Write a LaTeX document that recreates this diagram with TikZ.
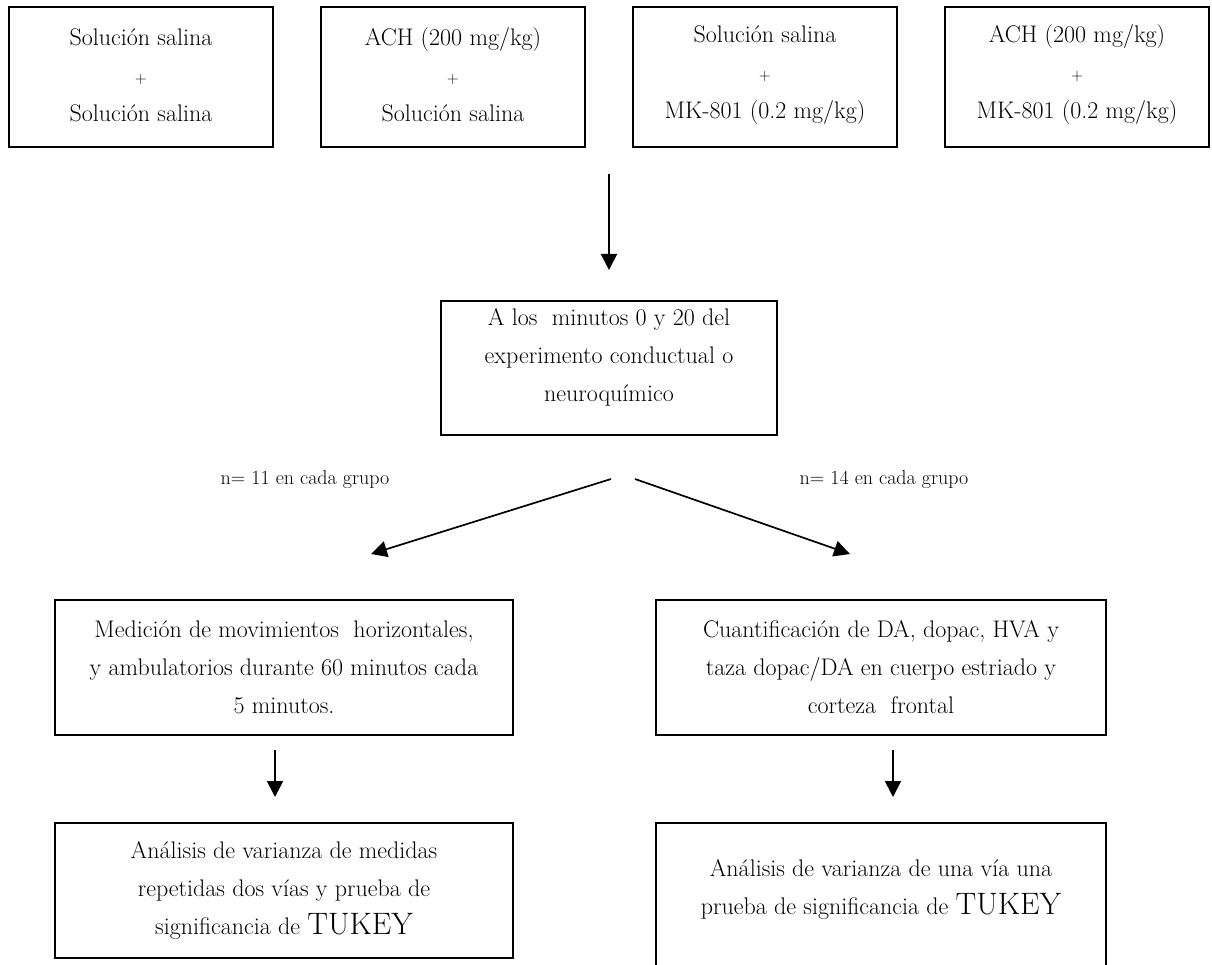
\documentclass[tikz,border=0pt]{standalone}
\usetikzlibrary{arrows.meta}
\begin{document}
\begin{tikzpicture}[x=1pt,y=-1pt,
  box/.style={draw=black, line width=1.8pt, inner sep=0pt},
  txt/.style={align=center, inner sep=0pt, font=\fontsize{24}{38}\selectfont},
  lab/.style={inner sep=0pt, font=\fontsize{20}{24}\selectfont},
  arr/.style={line width=1.7pt, -{Triangle[length=16pt,width=16pt]}}]
\clip (0,0) rectangle (1212,965);
\fill[white] (0,0) rectangle (1212,965);
\newcommand{\plusmark}{{\fontsize{16}{38}\selectfont +}}
\newcommand{\tukey}{{\fontsize{31}{38}\selectfont TUKEY}}
% top row
\node[box, minimum width=264pt, minimum height=140pt] (b1) at (141,77) {};
\node[box, minimum width=264pt, minimum height=140pt] (b2) at (453,77) {};
\node[box, minimum width=264pt, minimum height=140pt] (b3) at (765,77) {};
\node[box, minimum width=264pt, minimum height=140pt] (b4) at (1077,77) {};
\node[txt] (t1) at (141,75) {Solución salina\\\plusmark\\Solución salina};
\node[txt] (t2) at (453,75) {ACH (200 mg/kg)\\\plusmark\\Solución salina};
\node[txt] (t3) at (765,75) {Solución salina\\\plusmark\\MK-801 (0.2 mg/kg)};
\node[txt] (t4) at (1077,75) {ACH (200 mg/kg)\\\plusmark\\MK-801 (0.2 mg/kg)};
% middle
\node[box, minimum width=336pt, minimum height=134pt] (m) at (609,368) {};
\node[txt] (mt) at (609,357) {A los\ \ minutos 0 y 20 del\\experimento conductual o\\neuroquímico};
\coordinate (a0) at (609,174);
\coordinate (a1) at (609,270);
\draw[arr] (a0) -- (a1);
% labels
\node[lab] (n11) at (305,480) {n= 11 en cada grupo};
\node[lab] (n14) at (884,480) {n= 14 en cada grupo};
\coordinate (dl0) at (611,479);
\coordinate (dl1) at (371,554);
\coordinate (dr0) at (635,479);
\coordinate (dr1) at (850,554);
\draw[arr] (dl0) -- (dl1);
\draw[arr] (dr0) -- (dr1);
% lower left
\node[box, minimum width=458pt, minimum height=135pt] (l1) at (284,667.5) {};
\node[txt] (l1t) at (284,667) {Medición de movimientos\ \ horizontales,\\y ambulatorios durante 60 minutos cada\\5 minutos.};
\node[box, minimum width=458pt, minimum height=135pt] (l2) at (284,890.5) {};
\node[txt] (l2t) at (284,890) {Análisis de varianza de medidas\\repetidas dos vías y prueba de\\significancia de \tukey};
\coordinate (la0) at (275,750);
\coordinate (la1) at (275,797);
\draw[arr] (la0) -- (la1);
% lower right
\node[box, minimum width=450pt, minimum height=135pt] (r1) at (881,667.5) {};
\node[txt] (r1t) at (881,667) {Cuantificación de DA, dopac, HVA y\\taza dopac/DA en cuerpo estriado y\\corteza\ \ frontal};
\node[box, minimum width=450pt, minimum height=167pt] (r2) at (881,906.5) {};
\node[txt] (r2t) at (881,889) {Análisis de varianza de una vía una\\prueba de significancia de \tukey};
\coordinate (ra0) at (893,750);
\coordinate (ra1) at (893,797);
\draw[arr] (ra0) -- (ra1);
\end{tikzpicture}
\end{document}
